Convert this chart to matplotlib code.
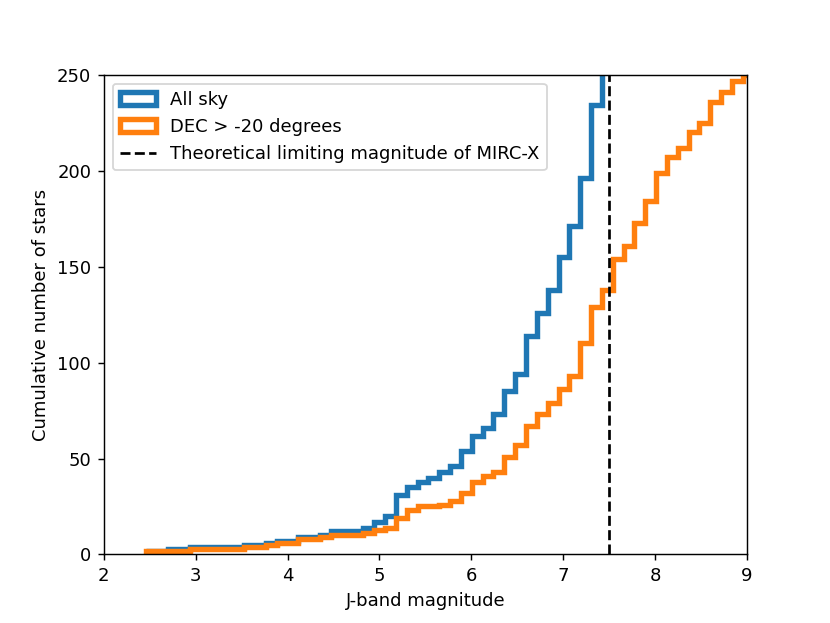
import numpy as np
import matplotlib
matplotlib.use("Agg")
import matplotlib.pyplot as plt
from matplotlib.patches import Patch
from matplotlib.lines import Line2D

# histogram bins (J mag), same for both samples
bin_start = 2.465
bin_width = 0.118
n_bins = 56
edges = bin_start + bin_width * np.arange(n_bins + 1)

# cumulative counts per bin
all_sky = [2, 2, 3, 3, 4, 4, 4, 4, 4, 5,
           5, 6, 7, 7, 9, 9, 10, 12, 12, 12,
           14, 17, 20, 31, 35, 38, 40, 43, 46, 54,
           62, 66, 73, 85, 94, 114, 126, 138, 155, 171,
           196, 234, 268]
dec_north = [2, 2, 2, 2, 3, 3, 3, 3, 3, 4,
             4, 5, 6, 6, 8, 8, 9, 10, 10, 10,
             11, 13, 14, 19, 23, 25, 25, 26, 28, 32,
             38, 41, 43, 51, 57, 67, 73, 79, 86, 93,
             110, 129, 138, 154, 161, 173, 184, 199, 207, 212,
             220, 225, 236, 241, 247, 250]
mirc_limit = 7.5

fig, ax = plt.subplots(figsize=(830 / 129.7, 623 / 129.7), dpi=129.7)

ax.stairs(all_sky, edges[:len(all_sky) + 1], baseline=None, color="C0", lw=3)
ax.stairs(dec_north, edges[:len(dec_north) + 1], baseline=0, color="C1", lw=3)
ax.axvline(mirc_limit, color="k", ls="--", lw=1.5)

ax.set_xlim(2, 9)
ax.set_ylim(0, 250)
ax.set_xlabel("J-band magnitude")
ax.set_ylabel("Cumulative number of stars")

handles = [Patch(facecolor="none", edgecolor="C0", lw=3),
           Patch(facecolor="none", edgecolor="C1", lw=3),
           Line2D([], [], color="k", ls="--", lw=1.5)]
labels = ["All sky", "DEC > -20 degrees", "Theoretical limiting magnitude of MIRC-X"]
ax.legend(handles, labels, loc="upper left")

fig.savefig("out.png", dpi=129.7)
